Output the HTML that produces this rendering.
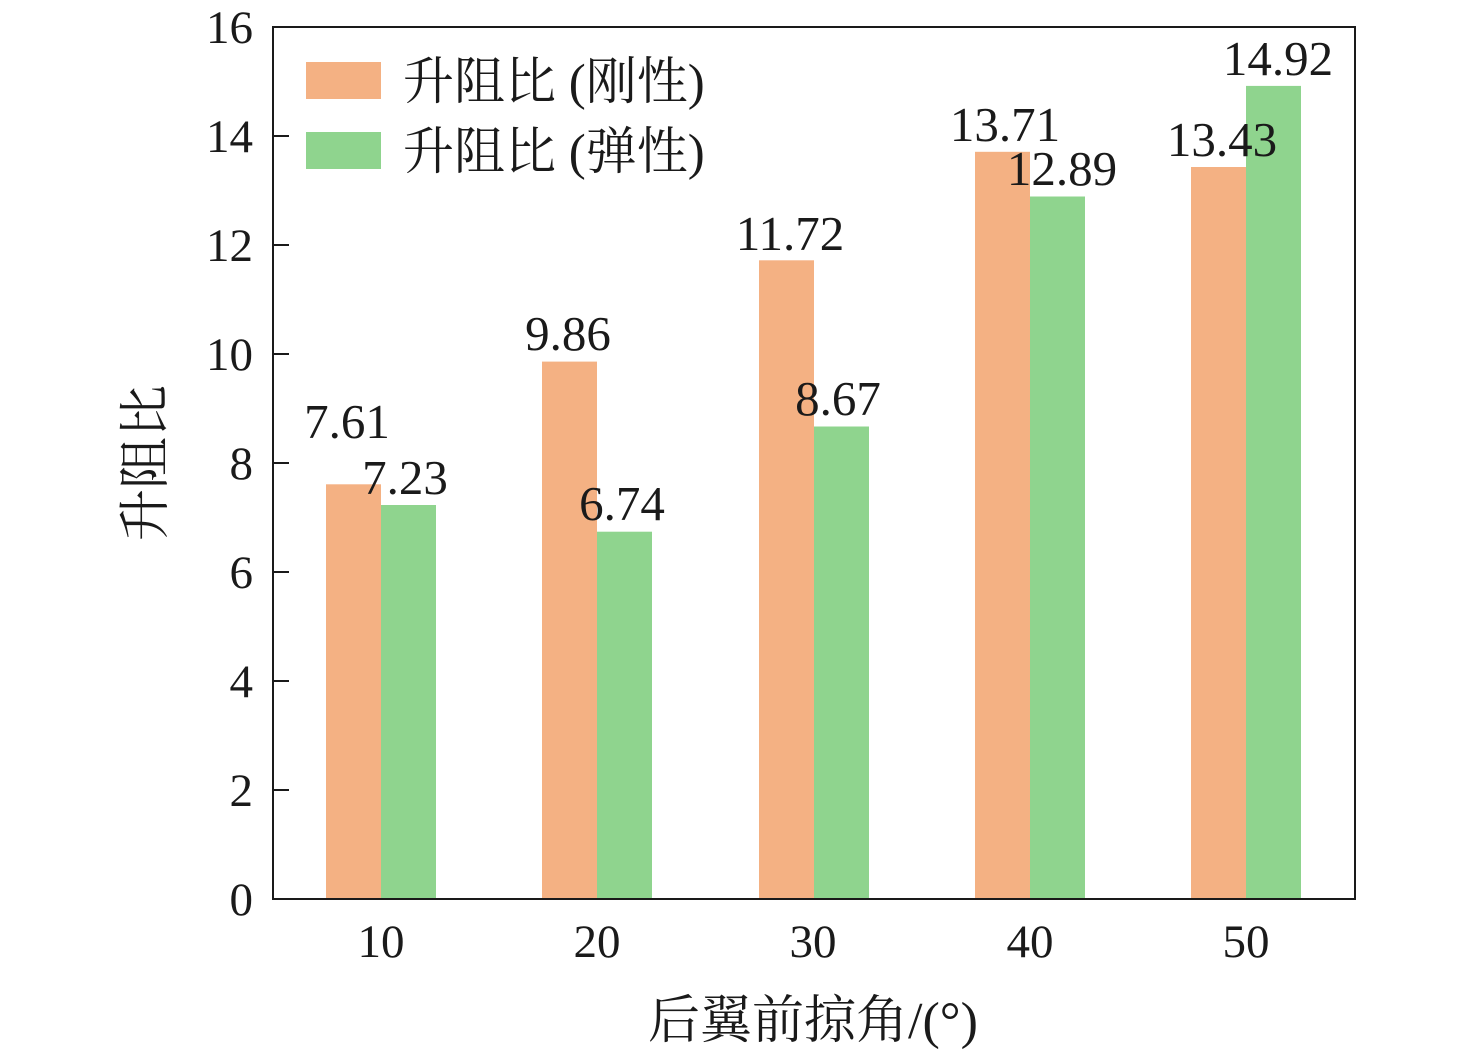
<!DOCTYPE html>
<html><head><meta charset="utf-8"><style>
html,body{margin:0;padding:0;background:#fff;}
svg text{font-family:"Liberation Serif","Noto Serif CJK SC",serif;fill:#1a1a1a;}
</style></head><body>
<svg width="1476" height="1052" viewBox="0 0 1476 1052" xmlns="http://www.w3.org/2000/svg">
<g fill="#F4B183">
<rect x="326" y="484.3" width="55" height="414.7"/>
<rect x="542" y="361.6" width="55" height="537.4"/>
<rect x="759" y="260.3" width="55" height="638.7"/>
<rect x="975" y="151.8" width="55" height="747.2"/>
<rect x="1191" y="167" width="55" height="732"/>
</g>
<g fill="#8FD48E">
<rect x="381" y="505" width="55" height="394"/>
<rect x="597" y="531.7" width="55" height="367.3"/>
<rect x="814" y="426.5" width="55" height="472.5"/>
<rect x="1030" y="196.5" width="55" height="702.5"/>
<rect x="1246" y="85.9" width="55" height="813.1"/>
</g>
<rect x="273" y="27" width="1082" height="872" fill="none" stroke="#1a1a1a" stroke-width="2"/>
<g stroke="#1a1a1a" stroke-width="2">
<line x1="273" y1="790" x2="289" y2="790"/>
<line x1="273" y1="681" x2="289" y2="681"/>
<line x1="273" y1="572" x2="289" y2="572"/>
<line x1="273" y1="463" x2="289" y2="463"/>
<line x1="273" y1="354" x2="289" y2="354"/>
<line x1="273" y1="245" x2="289" y2="245"/>
<line x1="273" y1="136" x2="289" y2="136"/>
</g>
<g font-size="47" text-anchor="end">
<text x="253" y="915">0</text>
<text x="253" y="806">2</text>
<text x="253" y="697">4</text>
<text x="253" y="588">6</text>
<text x="253" y="479">8</text>
<text x="253" y="370">10</text>
<text x="253" y="261">12</text>
<text x="253" y="152">14</text>
<text x="253" y="43">16</text>
</g>
<g font-size="47" text-anchor="middle">
<text x="381" y="957">10</text>
<text x="597" y="957">20</text>
<text x="813" y="957">30</text>
<text x="1030" y="957">40</text>
<text x="1246" y="957">50</text>
</g>
<g font-size="49" text-anchor="middle">
<text x="347" y="438">7.61</text>
<text x="405" y="494">7.23</text>
<text x="568" y="350">9.86</text>
<text x="622" y="520">6.74</text>
<text x="790" y="250">11.72</text>
<text x="838" y="415">8.67</text>
<text x="1005" y="141">13.71</text>
<text x="1062" y="185">12.89</text>
<text x="1222" y="156">13.43</text>
<text x="1278" y="75">14.92</text>
</g>
<rect x="306" y="62" width="75" height="37" fill="#F4B183"/>
<rect x="306" y="132" width="75" height="37" fill="#8FD48E"/>
<text x="403" y="99" font-size="51">升阻比 (刚性)</text>
<text x="403" y="169" font-size="51">升阻比 (弹性)</text>
<text x="813" y="1038" font-size="52" text-anchor="middle">后翼前掠角/(°)</text>
<text transform="translate(163,463) rotate(-90)" font-size="52" text-anchor="middle">升阻比</text>
</svg>
</body></html>
